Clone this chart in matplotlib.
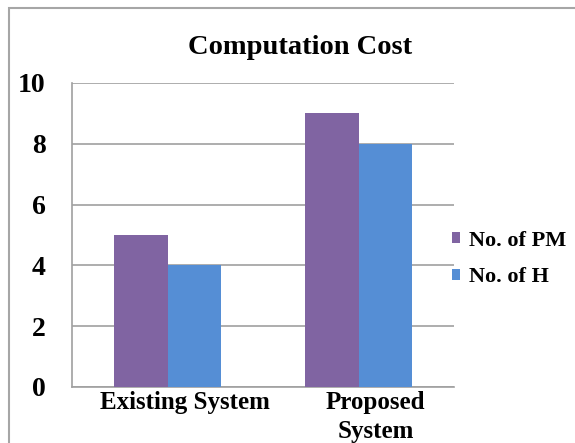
import numpy as np
import matplotlib
matplotlib.use("Agg")
from matplotlib import pyplot as plt
from matplotlib.patches import Rectangle
from matplotlib.transforms import ScaledTranslation

categories = ["Existing System", "Proposed\nSystem"]
series_names = ["No. of PM", "No. of H"]
pm_values = [5, 9]
h_values = [4, 8]
yticks = [0, 2, 4, 6, 8, 10]

purple = "#8064A2"
blue = "#558ED5"
grid_grey = "#A0A0A0"
serif = ['Liberation Serif', 'DejaVu Serif']

plt.rcParams['font.family'] = serif
plt.rcParams['font.weight'] = 'bold'

fig = plt.figure(figsize=(5.75, 4.43), dpi=100)
W, H = 575.0, 443.0
ax = fig.add_axes([72 / W, 1 - 387 / H, (454 - 72) / W, (387 - 83) / H])

x = np.arange(len(categories))
bw = 0.28
ax.bar(x - bw / 2, pm_values, bw, color=purple, label=series_names[0], zorder=3)
ax.bar(x + bw / 2, h_values, bw, color=blue, label=series_names[1], zorder=3)

ax.set_xlim(-0.5, 1.5)
ax.set_ylim(0, 10)
ax.set_yticks(yticks)
ax.set_yticklabels([str(v) for v in yticks], fontsize=20, fontweight='bold', family=serif)
ax.yaxis.grid(True, color=grid_grey, linewidth=1.2, zorder=0)
ax.tick_params(axis='y', length=0, pad=19)
ax.tick_params(axis='x', length=0, pad=3)

ax.set_xticks(x)
ax.set_xticklabels(categories, fontsize=18, fontweight='bold', linespacing=1.3, family=serif)
offset = ScaledTranslation(17 / 100, 0, fig.dpi_scale_trans)
for lab in ax.get_xticklabels():
    lab.set_transform(lab.get_transform() + offset)

for side in ['top', 'right']:
    ax.spines[side].set_visible(False)
for side in ['left', 'bottom']:
    ax.spines[side].set_color(grid_grey)
    ax.spines[side].set_linewidth(1.2)

fig.text(300 / W, 1 - 47 / H, "Computation Cost", ha='center', va='center',
         fontsize=20.5, fontweight='bold', family=serif)

leg = fig.legend(loc='center left', bbox_to_anchor=(452 / W, 1 - 259 / H),
                 frameon=False, prop={'family': serif, 'weight': 'bold', 'size': 16},
                 handlelength=0.38, handleheight=0.38,
                 handletextpad=0.38, labelspacing=0.75, borderpad=0, borderaxespad=0)

# outer chart border (cut off at right and bottom)
fig.patches.append(Rectangle((9 / W, -0.2), 2, 1.2 - 8 / H, transform=fig.transFigure,
                             fill=False, edgecolor="#A6A6A6", linewidth=1.5))

fig.savefig("out.png", dpi=100)
